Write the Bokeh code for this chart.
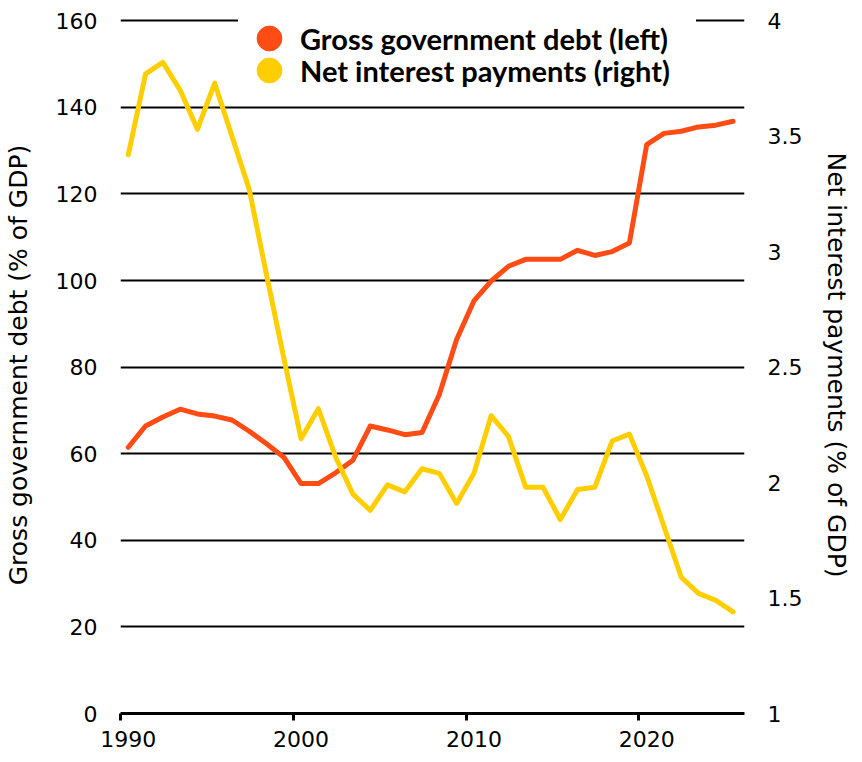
from bokeh.plotting import figure
from bokeh.models import Range1d, LinearAxis, FixedTicker, Legend, LegendItem
from bokeh.embed import file_html
from bokeh.resources import INLINE

# ---- data ----
years = list(range(1990, 2026))
gross_debt = [61.5, 66.4, 68.5, 70.3, 69.2, 68.7, 67.8, 65.2, 62.3, 59.2,
              53.1, 53.1, 55.6, 58.5, 66.4, 65.5, 64.4, 64.9, 73.7, 86.4,
              95.3, 99.9, 103.3, 104.9, 104.9, 104.9, 107.0, 105.8, 106.7, 108.7,
              131.4, 134.0, 134.5, 135.5, 135.9, 136.8]
net_interest = [3.42, 3.77, 3.82, 3.70, 3.53, 3.73, 3.50, 3.27, 2.90, 2.54,
                2.19, 2.32, 2.11, 1.95, 1.88, 1.99, 1.96, 2.06, 2.04, 1.91,
                2.04, 2.29, 2.20, 1.98, 1.98, 1.84, 1.97, 1.98, 2.18, 2.21,
                2.03, 1.81, 1.59, 1.52, 1.49, 1.44]
x_tick_years = [1990, 2000, 2010, 2020]
left_ticks = [0, 20, 40, 60, 80, 100, 120, 140, 160]
right_ticks = [1, 1.5, 2, 2.5, 3, 3.5, 4]

series_labels = ["Gross government debt (left)", "Net interest payments (right)"]
left_title = "Gross government debt (% of GDP)"
right_title = "Net interest payments (% of GDP)"

# ---- style ----
DEBT_COLOR = "#FF4B14"
INTEREST_COLOR = "#FFCE00"
FONT = "DejaVu Sans"
LEGEND_FONT = "Lato"
TICK_SIZE = "22px"
TITLE_SIZE = "25px"
NAN = float("nan")

# left axis 0..160 and right axis 1..4 share the same frame; a small headroom
# above 160 keeps the top gridline from being clipped at the frame edge
LEFT_MIN, LEFT_MAX, HEADROOM = 0, 160, 1
RIGHT_MIN, RIGHT_MAX = 1, 4
right_top = RIGHT_MIN + (RIGHT_MAX - RIGHT_MIN) * (LEFT_MAX + HEADROOM - LEFT_MIN) / (LEFT_MAX - LEFT_MIN)

p = figure(width=854, height=754, output_backend="svg", toolbar_location=None,
           x_range=Range1d(1989.55, 2025.66),
           y_range=Range1d(LEFT_MIN, LEFT_MAX + HEADROOM),
           min_border_left=113, min_border_right=100,
           min_border_top=16, min_border_bottom=41)
p.outline_line_color = None
p.background_fill_color = "white"
p.border_fill_color = "white"
p.extra_y_ranges = {"right": Range1d(RIGHT_MIN, right_top)}

p.xgrid.visible = False
p.ygrid.ticker = FixedTicker(ticks=left_ticks)
p.ygrid.grid_line_color = "#000000"
p.ygrid.grid_line_width = 2

# bottom axis: line + tick marks (tick marks sit just left of each labelled year)
xa = p.xaxis[0]
xa.ticker = FixedTicker(ticks=[y - 0.45 for y in x_tick_years])
xa.major_label_overrides = {y - 0.45: "" for y in x_tick_years}
xa.major_label_text_font_size = "0px"
xa.major_label_standoff = 0
xa.axis_line_color = "black"
xa.axis_line_width = 3
xa.major_tick_line_color = "black"
xa.major_tick_line_width = 3
xa.major_tick_in = 0
xa.major_tick_out = 7
xa.minor_tick_line_color = None

# bottom axis: year labels
xl = LinearAxis(ticker=FixedTicker(ticks=x_tick_years))
xl.axis_line_color = None
xl.major_tick_line_color = None
xl.minor_tick_line_color = None
xl.major_tick_in = 0
xl.major_tick_out = 0
xl.major_label_standoff = 10
xl.major_label_text_font = FONT
xl.major_label_text_font_size = TICK_SIZE
xl.major_label_text_color = "black"
p.add_layout(xl, "below")

# left axis
ya = p.yaxis[0]
ya.ticker = FixedTicker(ticks=left_ticks)
ya.axis_line_color = None
ya.major_tick_line_color = None
ya.minor_tick_line_color = None
ya.major_tick_in = 0
ya.major_tick_out = 0
ya.major_label_standoff = 23
ya.major_label_text_font = FONT
ya.major_label_text_font_size = TICK_SIZE
ya.major_label_text_color = "black"
ya.axis_label = left_title
ya.axis_label_text_font = FONT
ya.axis_label_text_font_size = TITLE_SIZE
ya.axis_label_text_font_style = "normal"
ya.axis_label_text_color = "black"
ya.axis_label_standoff = 20

# right axis
yr = LinearAxis(y_range_name="right", ticker=FixedTicker(ticks=right_ticks))
yr.major_label_overrides = {t: f"{t:g}" for t in right_ticks}
yr.axis_line_color = None
yr.major_tick_line_color = None
yr.minor_tick_line_color = None
yr.major_tick_in = 0
yr.major_tick_out = 0
yr.major_label_standoff = 23
yr.major_label_text_font = FONT
yr.major_label_text_font_size = TICK_SIZE
yr.major_label_text_color = "black"
yr.axis_label = right_title
yr.axis_label_text_font = FONT
yr.axis_label_text_font_size = TITLE_SIZE
yr.axis_label_text_font_style = "normal"
yr.axis_label_text_color = "black"
yr.axis_label_standoff = 17
p.add_layout(yr, "right")

# series
p.line(years, gross_debt, line_width=5, line_color=DEBT_COLOR,
       line_join="round", line_cap="round")
p.line(years, net_interest, y_range_name="right", line_width=5,
       line_color=INTEREST_COLOR, line_join="round", line_cap="round")

# legend swatches (renderers with no drawable point)
dot1 = p.scatter(x=[NAN], y=[NAN], marker="circle", color=DEBT_COLOR)
dot2 = p.scatter(x=[NAN], y=[NAN], y_range_name="right", marker="circle",
                 color=INTEREST_COLOR)

common = dict(glyph_width=62, glyph_height=64, label_standoff=0, label_width=396,
              padding=0, margin=0, spacing=0, border_line_alpha=0,
              label_text_font=LEGEND_FONT, label_text_font_style="bold",
              label_text_font_size="29px", label_text_color="black")
legend1 = Legend(items=[LegendItem(label=series_labels[0], renderers=[dot1])],
                 location=(118, 643), background_fill_color="white",
                 background_fill_alpha=1, **common)
legend2 = Legend(items=[LegendItem(label=series_labels[1], renderers=[dot2])],
                 location=(118, 611), background_fill_alpha=0, **common)
p.add_layout(legend1)
p.add_layout(legend2)

open("out.html", "w").write(file_html(p, INLINE))
